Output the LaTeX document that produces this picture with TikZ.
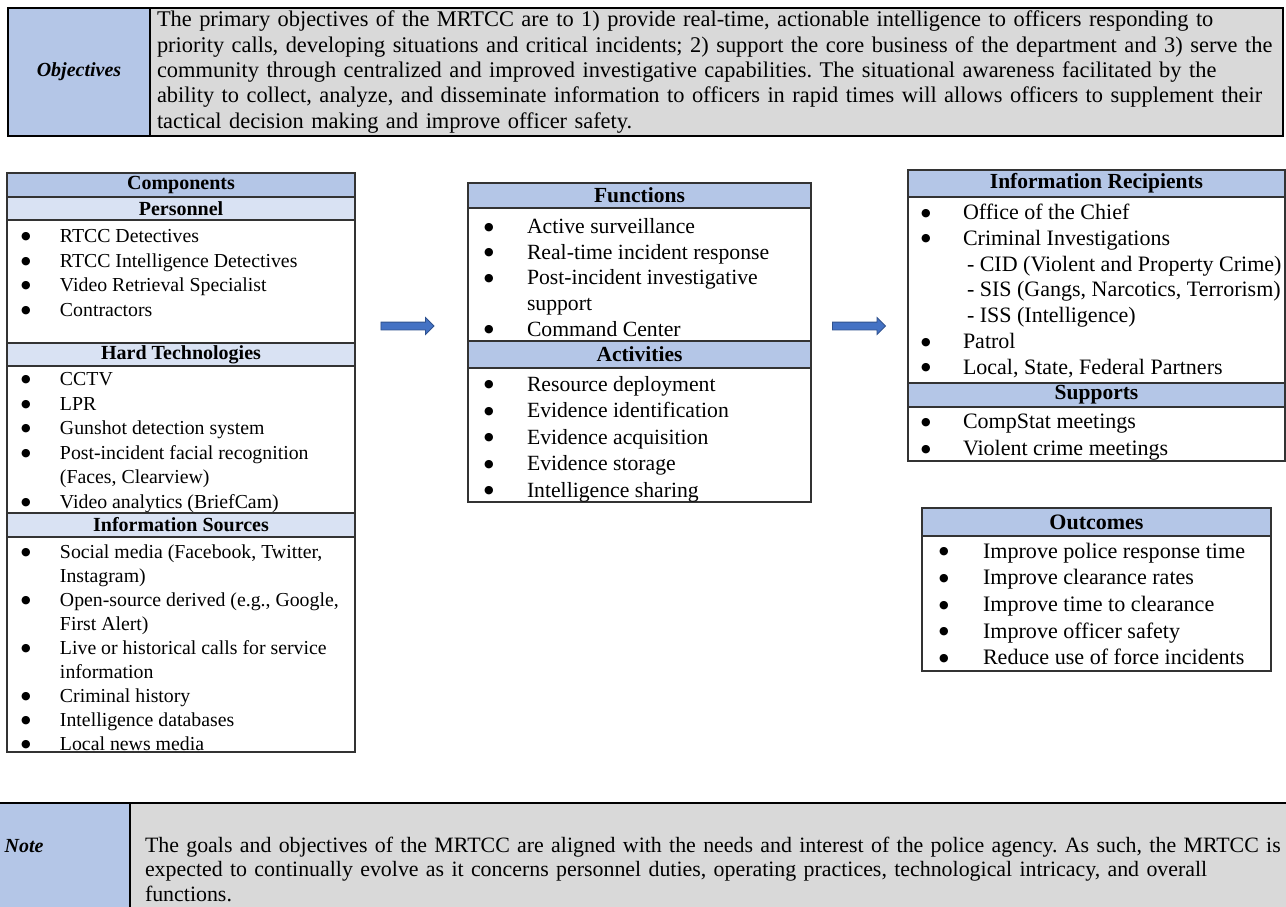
\documentclass[tikz,border=0pt]{standalone}
\usepackage{fontspec}
\setmainfont{Liberation Serif}
\newfontfamily\simbolos{DejaVu Sans}
\usetikzlibrary{positioning,shapes.arrows}
\definecolor{azul}{HTML}{B4C6E7}
\definecolor{azulclaro}{HTML}{D9E2F3}
\definecolor{gris}{HTML}{D9D9D9}
\definecolor{azulflecha}{HTML}{4472C4}
\definecolor{bordeflecha}{HTML}{2F528F}
\frenchspacing
\newlength\sangria \setlength\sangria{14pt}
\newlength\hueco \setlength\hueco{39pt}
\newcommand{\vineta}{\raisebox{3.4pt}{\simbolos\fontsize{11}{11}\selectfont ●}}
\newcommand{\punto}[1]{\par\noindent\hspace*{\sangria}\makebox[\hueco][l]{\vineta}\mbox{#1}\strut}
\newcommand{\sigue}[1]{\par\noindent\hspace*{\dimexpr\sangria+\hueco\relax}\mbox{#1}\strut}
\newcommand{\subpunto}[1]{\par\noindent\hspace*{\dimexpr\sangria+\hueco+4pt\relax}\mbox{#1}\strut}
\newcommand{\caja}[4]{\begin{minipage}[t][#1][t]{#2}\vspace*{#3}#4\par\end{minipage}}

\begin{document}
\begin{tikzpicture}[x=1pt,y=-1pt]
\tikzset{
    celda/.style={rectangle, draw=black, line width=2pt, inner sep=0pt, outer sep=0pt},
    titulo/.style 2 args={rectangle, draw=black!80, line width=1.2pt, fill=azul, minimum width=#1,
                          inner sep=0pt, outer sep=0pt, font=\fontsize{#2}{24}\selectfont\bfseries},
    subtitulo/.style 2 args={titulo={#1}{#2}, fill=azulclaro},
    cuerpo/.style 2 args={rectangle, draw=black!80, line width=1.2pt, fill=white, inner sep=0pt,
                          outer sep=0pt, font=\fontsize{#1}{#2}\selectfont},
    flecha/.style={single arrow, fill=azulflecha, draw=bordeflecha, line width=0.8pt, inner xsep=0pt,
                   inner ysep=3.5pt, minimum height=53pt, single arrow head extend=4.5pt,
                   single arrow head indent=0pt}
}
\useasboundingbox (0,0) rectangle (1286,907);
\clip (0,0) rectangle (1286,907);

% objetivos
\node[celda, fill=azul, minimum width=142pt, minimum height=128pt, anchor=north west,
      font=\fontsize{20}{24}\selectfont\bfseries\itshape] (objetivos) at (8,8) {Objectives};
\node[celda, fill=gris, minimum height=128pt, text width=1119pt, inner xsep=7pt, align=left,
      right=0pt of objetivos, font=\fontsize{22.4}{25.3}\selectfont] (objetivosT)
  {The primary objectives of the MRTCC are to 1) provide real-time, actionable intelligence to officers responding to\\
   priority calls, developing situations and critical incidents; 2) support the core business of the department and 3) serve the\\
   community through centralized and improved investigative capabilities. The situational awareness facilitated by the\\
   ability to collect, analyze, and disseminate information to officers in rapid times will allows officers to supplement their\\
   tactical decision making and improve officer safety.};

% componentes
\node[titulo={348pt}{20}, minimum height=24pt, anchor=north west] (componentes) at (7,173) {Components};
\node[subtitulo={348pt}{20}, minimum height=23pt, below=0pt of componentes] (personal) {Personnel};
\node[cuerpo={19.8}{24.5}, below=0pt of personal] (personalL) {\caja{123pt}{348pt}{5.8pt}{%
  \punto{RTCC Detectives}\punto{RTCC Intelligence Detectives}\punto{Video Retrieval Specialist}%
  \punto{Contractors}}};
\node[subtitulo={348pt}{20}, minimum height=23pt, below=0pt of personalL] (tecnologias) {Hard Technologies};
\node[cuerpo={19.8}{24.5}, below=0pt of tecnologias] (tecnologiasL) {\caja{147pt}{348pt}{2.8pt}{%
  \punto{CCTV}\punto{LPR}\punto{Gunshot detection system}\punto{Post-incident facial recognition}%
  \sigue{(Faces, Clearview)}\punto{Video analytics (BriefCam)}}};
\node[subtitulo={348pt}{20}, minimum height=24pt, below=0pt of tecnologiasL] (fuentes) {Information Sources};
\node[cuerpo={19.8}{24}, below=0pt of fuentes] (fuentesL) {\caja{215pt}{348pt}{5.1pt}{%
  \punto{Social media (Facebook, Twitter,}\sigue{Instagram)}%
  \punto{Open-source derived (e.g., Google,}\sigue{First Alert)}%
  \punto{Live or historical calls for service}\sigue{information}%
  \punto{Criminal history}\punto{Intelligence databases}\punto{Local news media}}};

% funciones
\node[titulo={343pt}{21.5}, minimum height=25pt, anchor=north west] (funciones) at (468,183) {Functions};
\node[cuerpo={21.7}{25.7}, below=0pt of funciones] (funcionesL) {\caja{133pt}{343pt}{7.5pt}{%
  \setlength\sangria{16pt}\setlength\hueco{43pt}%
  \punto{Active surveillance}\punto{Real-time incident response}%
  \punto{Post-incident investigative}\sigue{support}\punto{Command Center}}};
\node[titulo={343pt}{21.5}, minimum height=27pt, below=0pt of funcionesL] (actividades) {Activities};
\node[cuerpo={21.7}{26.5}, below=0pt of actividades] (actividadesL) {\caja{134pt}{343pt}{4.5pt}{%
  \setlength\sangria{16pt}\setlength\hueco{43pt}%
  \punto{Resource deployment}\punto{Evidence identification}\punto{Evidence acquisition}%
  \punto{Evidence storage}\punto{Intelligence sharing}}};

% receptores
\node[titulo={377pt}{21.5}, minimum height=27pt, anchor=north west] (receptores) at (908,170) {Information Recipients};
\node[cuerpo={22}{25.8}, below=0pt of receptores] (receptoresL) {\caja{186pt}{377pt}{4.5pt}{%
  \setlength\sangria{13pt}\setlength\hueco{42pt}%
  \punto{Office of the Chief}\punto{Criminal Investigations}%
  \subpunto{- CID (Violent and Property Crime)}\subpunto{- SIS (Gangs, Narcotics, Terrorism)}%
  \subpunto{- ISS (Intelligence)}\punto{Patrol}\punto{Local, State, Federal Partners}}};
\node[titulo={377pt}{21.5}, minimum height=24pt, below=0pt of receptoresL] (apoyos) {Supports};
\node[cuerpo={22}{27}, below=0pt of apoyos] (apoyosL) {\caja{54pt}{377pt}{2.7pt}{%
  \setlength\sangria{13pt}\setlength\hueco{42pt}%
  \punto{CompStat meetings}\punto{Violent crime meetings}}};

% resultados
\node[titulo={349pt}{22}, minimum height=28pt, anchor=north west] (resultados) at (922,508) {Outcomes};
\node[cuerpo={22.1}{26.7}, below=0pt of resultados] (resultadosL) {\caja{135pt}{349pt}{3.5pt}{%
  \setlength\sangria{17pt}\setlength\hueco{44pt}%
  \punto{Improve police response time}\punto{Improve clearance rates}\punto{Improve time to clearance}%
  \punto{Improve officer safety}\punto{Reduce use of force incidents}}};

% flechas
\node[flecha] (flecha1) at (405.5,326) {};
\node[flecha] (flecha2) at (857,326) {};

% nota
\node[celda, fill=azul, minimum width=212pt, text height=49pt, text depth=83pt, anchor=north west,
      font=\fontsize{20}{24}\selectfont\bfseries\itshape] (nota) at (-82,803) {Note};
\node[celda, fill=gris, minimum height=132pt, text width=1170pt, inner xsep=15pt, align=left,
      right=0pt of nota, font=\fontsize{21.9}{24.5}\selectfont] (notaT)
  {The goals and objectives of the MRTCC are aligned with the needs and interest of the police agency. As such, the MRTCC is\\
   expected to continually evolve as it concerns personnel duties, operating practices, technological intricacy, and overall\\
   functions.};
\end{tikzpicture}
\end{document}
